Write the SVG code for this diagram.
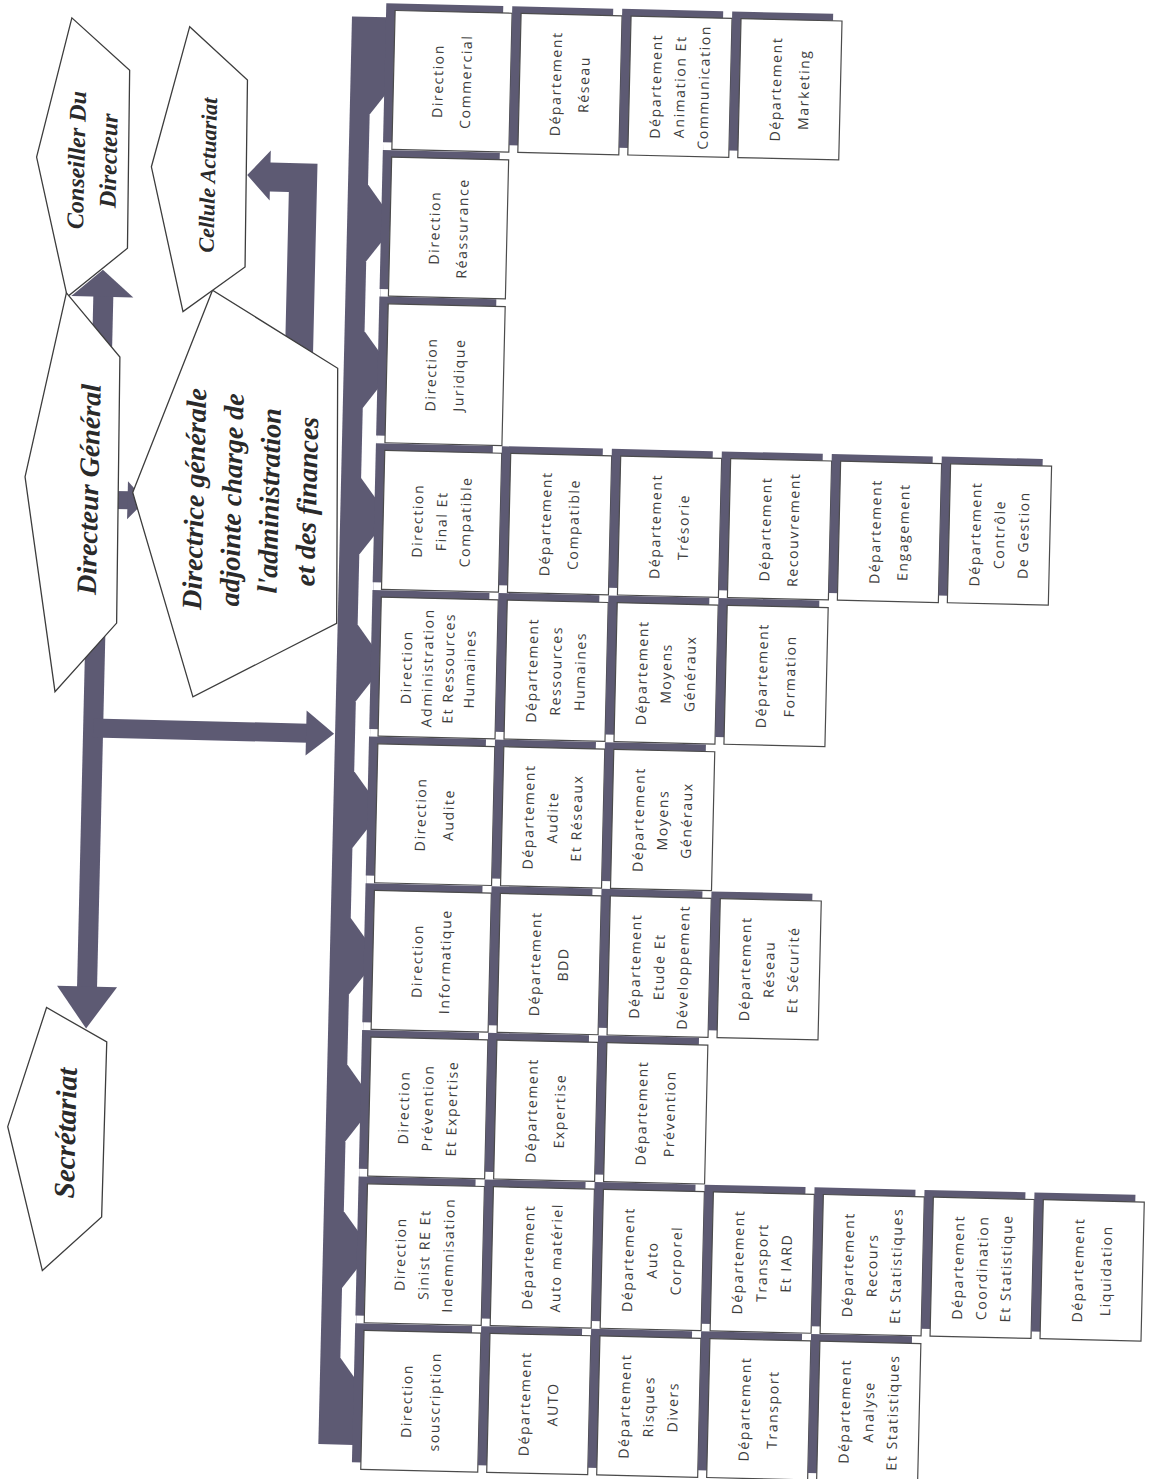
<svg xmlns="http://www.w3.org/2000/svg" width="1157" height="1479" viewBox="0 0 1157 1479">
<style>
.sh{fill:#5d5a73}
.bar{fill:#5d5a73}
.notch{fill:#fff}
.bx{fill:#fff;stroke:#4b4b4b;stroke-width:1.2}
.t{font-family:'Open Sans','Liberation Sans',sans-serif;font-size:14px;letter-spacing:1.6px;fill:#3c3c3c;text-anchor:middle}
.hx{fill:#fff;stroke:#3d3d3d;stroke-width:1.3}
.ht{font-family:'Liberation Serif','Times New Roman',serif;font-style:italic;font-weight:bold;fill:#2a2a2a;text-anchor:middle}
</style>
<rect width="1157" height="1479" fill="#fff"/>
<!-- whole chart is drawn upright and tilted slightly -->
<g transform="rotate(1.35 578 740)">
  <g id="connectors">
    <!-- main bus with arrow notches between directions -->
    <rect class="bar" x="335" y="22" width="35" height="1428"/>
    <polygon class="notch" points="370,99.7 355,119.7 355,189.7 370,209.7"/>
    <polygon class="notch" points="370,246.4 355,266.4 355,336.4 370,356.4"/>
    <polygon class="notch" points="370,393.1 355,413.1 355,483.1 370,503.1"/>
    <polygon class="notch" points="370,539.8 355,559.8 355,629.8 370,649.8"/>
    <polygon class="notch" points="370,686.5 355,706.5 355,776.5 370,796.5"/>
    <polygon class="notch" points="370,833.2 355,853.2 355,923.2 370,943.2"/>
    <polygon class="notch" points="370,979.9 355,999.9 355,1069.9 370,1089.9"/>
    <polygon class="notch" points="370,1126.6 355,1146.6 355,1216.6 370,1236.6"/>
    <polygon class="notch" points="370,1273.3 355,1293.3 355,1363.3 370,1383.3"/>
    <!-- Directeur General trunk: Conseiller up, Secretariat down -->
    <rect class="bar" x="83" y="300" width="20" height="705"/>
    <polygon class="bar" points="61,308 92,281 123,308"/>
    <polygon class="bar" points="63,998 93,1040 123,998"/>
    <!-- branch to the main bus -->
    <rect class="bar" x="93" y="730" width="215" height="19"/>
    <polygon class="bar" points="306,717 334,739.5 306,762"/>
    <!-- Directeur General to Directrice -->
    <rect class="bar" x="108" y="502" width="16" height="18"/>
    <polygon class="bar" points="122,492 140,511 122,530"/>
    <!-- Directrice to Cellule Actuariat -->
    <polygon class="bar" points="276,380 276,199 257,199 257,208 234,183 257,158 257,170 304,170 304,380"/>
  </g>

  <g id="conseiller">
    <polygon class="hx" points="23,170 55,30 114,81 116,259 57,309"/>
    <text class="ht" font-size="24" transform="translate(80 172) rotate(-90)"><tspan x="0" y="-9">Conseiller Du</tspan><tspan x="0" y="23">Directeur</tspan></text>
  </g>
  <g id="directeur-general">
    <polygon class="hx" points="19,490 56,305 111,368 114,634 54,704"/>
    <text class="ht" font-size="28" transform="translate(84 501) rotate(-90)"><tspan x="0" y="8.4">Directeur Général</tspan></text>
  </g>
  <g id="directrice">
    <polygon class="hx" points="127,503 202,299 329,374 334,629 192,706"/>
    <text class="ht" font-size="28" transform="translate(246 508) rotate(-90)"><tspan x="0" y="-47.9">Directrice générale</tspan><tspan x="0" y="-10.4">adjointe charge de</tspan><tspan x="0" y="27.2">l'administration</tspan><tspan x="0" y="64.7">et des finances</tspan></text>
  </g>
  <g id="cellule-actuariat">
    <polygon class="hx" points="138,177 173,36 232,88 234,275 173,321"/>
    <text class="ht" font-size="22" transform="translate(195 184) rotate(-90)"><tspan x="0" y="7">Cellule Actuariat</tspan></text>
  </g>
  <g id="secretariat">
    <polygon class="hx" points="17,1140 53,1020 114,1053 113,1228 55,1283"/>
    <text class="ht" font-size="29" transform="translate(76 1145) rotate(-90)"><tspan x="0" y="8.7">Secrétariat</tspan></text>
  </g>

  <!-- row 0 -->
  <g id="dir-commercial"><rect class="sh" x="369" y="8" width="117" height="139"/><rect class="bx" x="378" y="15" width="117" height="139"/><text class="t" transform="translate(436.5 84.5) rotate(-90)"><tspan x="0" y="-9">Direction</tspan><tspan x="0" y="19">Commercial</tspan></text></g>
  <g id="dep-reseau"><rect class="sh" x="495" y="8" width="101" height="139"/><rect class="bx" x="504" y="15" width="101" height="139"/><text class="t" transform="translate(554.5 84.5) rotate(-90)"><tspan x="0" y="-9">Département</tspan><tspan x="0" y="19">Réseau</tspan></text></g>
  <g id="dep-animation"><rect class="sh" x="605" y="8" width="101" height="139"/><rect class="bx" x="614" y="15" width="101" height="139"/><text class="t" transform="translate(664.5 84.5) rotate(-90)"><tspan x="0" y="-19">Département</tspan><tspan x="0" y="5">Animation Et</tspan><tspan x="0" y="29">Communication</tspan></text></g>
  <g id="dep-marketing"><rect class="sh" x="715" y="8" width="101" height="139"/><rect class="bx" x="724" y="15" width="101" height="139"/><text class="t" transform="translate(774.5 84.5) rotate(-90)"><tspan x="0" y="-9">Département</tspan><tspan x="0" y="19">Marketing</tspan></text></g>

  <!-- row 1 -->
  <g id="dir-reassurance"><rect class="sh" x="369" y="154.7" width="117" height="139"/><rect class="bx" x="378" y="161.7" width="117" height="139"/><text class="t" transform="translate(436.5 231.2) rotate(-90)"><tspan x="0" y="-9">Direction</tspan><tspan x="0" y="19">Réassurance</tspan></text></g>

  <!-- row 2 -->
  <g id="dir-juridique"><rect class="sh" x="369" y="301.4" width="117" height="139"/><rect class="bx" x="378" y="308.4" width="117" height="139"/><text class="t" transform="translate(436.5 377.9) rotate(-90)"><tspan x="0" y="-9">Direction</tspan><tspan x="0" y="19">Juridique</tspan></text></g>

  <!-- row 3 -->
  <g id="dir-final"><rect class="sh" x="369" y="448.1" width="117" height="139"/><rect class="bx" x="378" y="455.1" width="117" height="139"/><text class="t" transform="translate(436.5 524.6) rotate(-90)"><tspan x="0" y="-19">Direction</tspan><tspan x="0" y="5">Final Et</tspan><tspan x="0" y="29">Compatible</tspan></text></g>
  <g id="dep-compatible"><rect class="sh" x="495" y="448.1" width="101" height="139"/><rect class="bx" x="504" y="455.1" width="101" height="139"/><text class="t" transform="translate(554.5 524.6) rotate(-90)"><tspan x="0" y="-9">Département</tspan><tspan x="0" y="19">Compatible</tspan></text></g>
  <g id="dep-tresorie"><rect class="sh" x="605" y="448.1" width="101" height="139"/><rect class="bx" x="614" y="455.1" width="101" height="139"/><text class="t" transform="translate(664.5 524.6) rotate(-90)"><tspan x="0" y="-9">Département</tspan><tspan x="0" y="19">Trésorie</tspan></text></g>
  <g id="dep-recouvrement"><rect class="sh" x="715" y="448.1" width="101" height="139"/><rect class="bx" x="724" y="455.1" width="101" height="139"/><text class="t" transform="translate(774.5 524.6) rotate(-90)"><tspan x="0" y="-9">Département</tspan><tspan x="0" y="19">Recouvrement</tspan></text></g>
  <g id="dep-engagement"><rect class="sh" x="825" y="448.1" width="101" height="139"/><rect class="bx" x="834" y="455.1" width="101" height="139"/><text class="t" transform="translate(884.5 524.6) rotate(-90)"><tspan x="0" y="-9">Département</tspan><tspan x="0" y="19">Engagement</tspan></text></g>
  <g id="dep-controle"><rect class="sh" x="935" y="448.1" width="101" height="139"/><rect class="bx" x="944" y="455.1" width="101" height="139"/><text class="t" transform="translate(994.5 524.6) rotate(-90)"><tspan x="0" y="-19">Département</tspan><tspan x="0" y="5">Contrôle</tspan><tspan x="0" y="29">De Gestion</tspan></text></g>

  <!-- row 4 -->
  <g id="dir-admin-rh"><rect class="sh" x="369" y="594.8" width="117" height="139"/><rect class="bx" x="378" y="601.8" width="117" height="139"/><text class="t" transform="translate(436.5 671.3) rotate(-90)"><tspan x="0" y="-26.5">Direction</tspan><tspan x="0" y="-5.5">Administration</tspan><tspan x="0" y="15.5">Et Ressources</tspan><tspan x="0" y="36.5">Humaines</tspan></text></g>
  <g id="dep-rh"><rect class="sh" x="495" y="594.8" width="101" height="139"/><rect class="bx" x="504" y="601.8" width="101" height="139"/><text class="t" transform="translate(554.5 671.3) rotate(-90)"><tspan x="0" y="-19">Département</tspan><tspan x="0" y="5">Ressources</tspan><tspan x="0" y="29">Humaines</tspan></text></g>
  <g id="dep-moyens-1"><rect class="sh" x="605" y="594.8" width="101" height="139"/><rect class="bx" x="614" y="601.8" width="101" height="139"/><text class="t" transform="translate(664.5 671.3) rotate(-90)"><tspan x="0" y="-19">Département</tspan><tspan x="0" y="5">Moyens</tspan><tspan x="0" y="29">Généraux</tspan></text></g>
  <g id="dep-formation"><rect class="sh" x="715" y="594.8" width="101" height="139"/><rect class="bx" x="724" y="601.8" width="101" height="139"/><text class="t" transform="translate(774.5 671.3) rotate(-90)"><tspan x="0" y="-9">Département</tspan><tspan x="0" y="19">Formation</tspan></text></g>

  <!-- row 5 -->
  <g id="dir-audite"><rect class="sh" x="369" y="741.5" width="117" height="139"/><rect class="bx" x="378" y="748.5" width="117" height="139"/><text class="t" transform="translate(436.5 818) rotate(-90)"><tspan x="0" y="-9">Direction</tspan><tspan x="0" y="19">Audite</tspan></text></g>
  <g id="dep-audite"><rect class="sh" x="495" y="741.5" width="101" height="139"/><rect class="bx" x="504" y="748.5" width="101" height="139"/><text class="t" transform="translate(554.5 818) rotate(-90)"><tspan x="0" y="-19">Département</tspan><tspan x="0" y="5">Audite</tspan><tspan x="0" y="29">Et Réseaux</tspan></text></g>
  <g id="dep-moyens-2"><rect class="sh" x="605" y="741.5" width="101" height="139"/><rect class="bx" x="614" y="748.5" width="101" height="139"/><text class="t" transform="translate(664.5 818) rotate(-90)"><tspan x="0" y="-19">Département</tspan><tspan x="0" y="5">Moyens</tspan><tspan x="0" y="29">Généraux</tspan></text></g>

  <!-- row 6 -->
  <g id="dir-informatique"><rect class="sh" x="369" y="888.2" width="117" height="139"/><rect class="bx" x="378" y="895.2" width="117" height="139"/><text class="t" transform="translate(436.5 964.7) rotate(-90)"><tspan x="0" y="-9">Direction</tspan><tspan x="0" y="19">Informatique</tspan></text></g>
  <g id="dep-bdd"><rect class="sh" x="495" y="888.2" width="101" height="139"/><rect class="bx" x="504" y="895.2" width="101" height="139"/><text class="t" transform="translate(554.5 964.7) rotate(-90)"><tspan x="0" y="-9">Département</tspan><tspan x="0" y="19">BDD</tspan></text></g>
  <g id="dep-etude"><rect class="sh" x="605" y="888.2" width="101" height="139"/><rect class="bx" x="614" y="895.2" width="101" height="139"/><text class="t" transform="translate(664.5 964.7) rotate(-90)"><tspan x="0" y="-19">Département</tspan><tspan x="0" y="5">Etude Et</tspan><tspan x="0" y="29">Développement</tspan></text></g>
  <g id="dep-reseau-securite"><rect class="sh" x="715" y="888.2" width="101" height="139"/><rect class="bx" x="724" y="895.2" width="101" height="139"/><text class="t" transform="translate(774.5 964.7) rotate(-90)"><tspan x="0" y="-19">Département</tspan><tspan x="0" y="5">Réseau</tspan><tspan x="0" y="29">Et Sécurité</tspan></text></g>

  <!-- row 7 -->
  <g id="dir-prevention"><rect class="sh" x="369" y="1034.9" width="117" height="139"/><rect class="bx" x="378" y="1041.9" width="117" height="139"/><text class="t" transform="translate(436.5 1111.4) rotate(-90)"><tspan x="0" y="-19">Direction</tspan><tspan x="0" y="5">Prévention</tspan><tspan x="0" y="29">Et Expertise</tspan></text></g>
  <g id="dep-expertise"><rect class="sh" x="495" y="1034.9" width="101" height="139"/><rect class="bx" x="504" y="1041.9" width="101" height="139"/><text class="t" transform="translate(554.5 1111.4) rotate(-90)"><tspan x="0" y="-9">Département</tspan><tspan x="0" y="19">Expertise</tspan></text></g>
  <g id="dep-prevention"><rect class="sh" x="605" y="1034.9" width="101" height="139"/><rect class="bx" x="614" y="1041.9" width="101" height="139"/><text class="t" transform="translate(664.5 1111.4) rotate(-90)"><tspan x="0" y="-9">Département</tspan><tspan x="0" y="19">Prévention</tspan></text></g>

  <!-- row 8 -->
  <g id="dir-sinistre"><rect class="sh" x="369" y="1181.6" width="117" height="139"/><rect class="bx" x="378" y="1188.6" width="117" height="139"/><text class="t" transform="translate(436.5 1258.1) rotate(-90)"><tspan x="0" y="-19">Direction</tspan><tspan x="0" y="5">Sinist RE Et</tspan><tspan x="0" y="29">Indemnisation</tspan></text></g>
  <g id="dep-auto-materiel"><rect class="sh" x="495" y="1181.6" width="101" height="139"/><rect class="bx" x="504" y="1188.6" width="101" height="139"/><text class="t" transform="translate(554.5 1258.1) rotate(-90)"><tspan x="0" y="-9">Département</tspan><tspan x="0" y="19">Auto matériel</tspan></text></g>
  <g id="dep-auto-corporel"><rect class="sh" x="605" y="1181.6" width="101" height="139"/><rect class="bx" x="614" y="1188.6" width="101" height="139"/><text class="t" transform="translate(664.5 1258.1) rotate(-90)"><tspan x="0" y="-19">Département</tspan><tspan x="0" y="5">Auto</tspan><tspan x="0" y="29">Corporel</tspan></text></g>
  <g id="dep-transport-iard"><rect class="sh" x="715" y="1181.6" width="101" height="139"/><rect class="bx" x="724" y="1188.6" width="101" height="139"/><text class="t" transform="translate(774.5 1258.1) rotate(-90)"><tspan x="0" y="-19">Département</tspan><tspan x="0" y="5">Transport</tspan><tspan x="0" y="29">Et IARD</tspan></text></g>
  <g id="dep-recours"><rect class="sh" x="825" y="1181.6" width="101" height="139"/><rect class="bx" x="834" y="1188.6" width="101" height="139"/><text class="t" transform="translate(884.5 1258.1) rotate(-90)"><tspan x="0" y="-19">Département</tspan><tspan x="0" y="5">Recours</tspan><tspan x="0" y="29">Et Statistiques</tspan></text></g>
  <g id="dep-coordination"><rect class="sh" x="935" y="1181.6" width="101" height="139"/><rect class="bx" x="944" y="1188.6" width="101" height="139"/><text class="t" transform="translate(994.5 1258.1) rotate(-90)"><tspan x="0" y="-19">Département</tspan><tspan x="0" y="5">Coordination</tspan><tspan x="0" y="29">Et Statistique</tspan></text></g>
  <g id="dep-liquidation"><rect class="sh" x="1045" y="1181.6" width="101" height="139"/><rect class="bx" x="1054" y="1188.6" width="101" height="139"/><text class="t" transform="translate(1104.5 1258.1) rotate(-90)"><tspan x="0" y="-9">Département</tspan><tspan x="0" y="19">Liquidation</tspan></text></g>

  <!-- row 9 -->
  <g id="dir-souscription"><rect class="sh" x="369" y="1328.3" width="117" height="139"/><rect class="bx" x="378" y="1335.3" width="117" height="139"/><text class="t" transform="translate(436.5 1404.8) rotate(-90)"><tspan x="0" y="-9">Direction</tspan><tspan x="0" y="19">souscription</tspan></text></g>
  <g id="dep-auto"><rect class="sh" x="495" y="1328.3" width="101" height="139"/><rect class="bx" x="504" y="1335.3" width="101" height="139"/><text class="t" transform="translate(554.5 1404.8) rotate(-90)"><tspan x="0" y="-9">Département</tspan><tspan x="0" y="19">AUTO</tspan></text></g>
  <g id="dep-risques"><rect class="sh" x="605" y="1328.3" width="101" height="139"/><rect class="bx" x="614" y="1335.3" width="101" height="139"/><text class="t" transform="translate(664.5 1404.8) rotate(-90)"><tspan x="0" y="-19">Département</tspan><tspan x="0" y="5">Risques</tspan><tspan x="0" y="29">Divers</tspan></text></g>
  <g id="dep-transport"><rect class="sh" x="715" y="1328.3" width="101" height="139"/><rect class="bx" x="724" y="1335.3" width="101" height="139"/><text class="t" transform="translate(774.5 1404.8) rotate(-90)"><tspan x="0" y="-9">Département</tspan><tspan x="0" y="19">Transport</tspan></text></g>
  <g id="dep-analyse"><rect class="sh" x="825" y="1328.3" width="101" height="139"/><rect class="bx" x="834" y="1335.3" width="101" height="139"/><text class="t" transform="translate(884.5 1404.8) rotate(-90)"><tspan x="0" y="-19">Département</tspan><tspan x="0" y="5">Analyse</tspan><tspan x="0" y="29">Et Statistiques</tspan></text></g>
</g>
</svg>
